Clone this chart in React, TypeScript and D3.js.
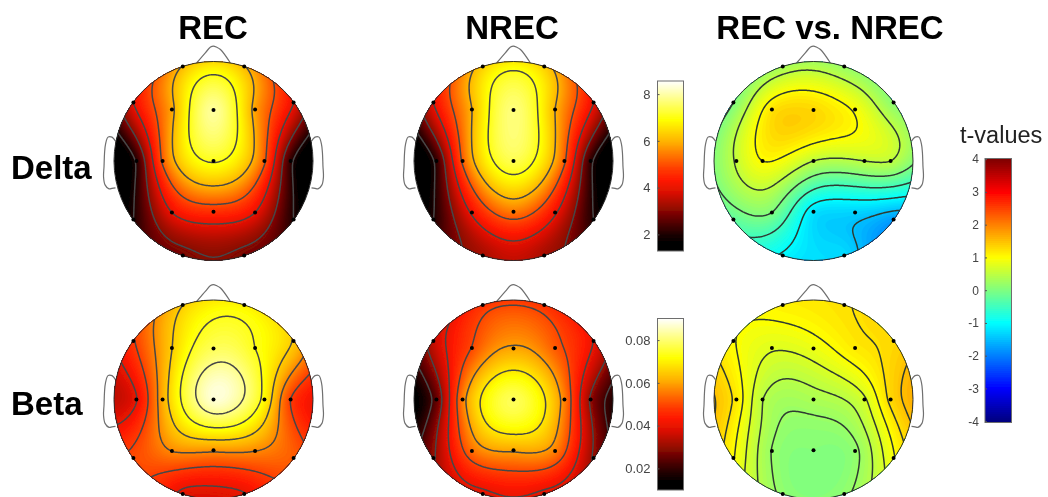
import React, { useEffect, useRef } from 'react';
import * as d3 from 'd3';

// 19 electrodes, unit head radius, x to the right and y towards the back
const electrodeX = [-0.309, 0.309, -0.805, -0.418, 0, 0.418, 0.805, -0.775, -0.512, 0, 0.512, 0.775, -0.805, -0.418, 0, 0.418, 0.805, -0.309, 0.309];
const electrodeY = [-0.95, -0.95, -0.587, -0.518, -0.513, -0.518, -0.587, 0, 0, 0, 0, 0, 0.587, 0.517, 0.51, 0.517, 0.587, 0.95, 0.95];

// Fp1 Fp2 F7 F3 Fz F4 F8 T3 C3 Cz C4 T4 T5 P3 Pz P4 T6 O1 O2
const recDelta = [6.05, 6.05, 4.0, 5.85, 7.9, 5.8, 4.0, 2.1, 5.1, 7.05, 5.1, 2.2, 2.0, 4.0, 4.6, 4.0, 2.0, 2.85, 2.85];
const nrecDelta = [6.3, 6.3, 4.0, 6.0, 7.7, 6.0, 4.0, 2.2, 5.1, 7.4, 5.1, 2.2, 2.0, 4.1, 5.4, 4.1, 2.0, 3.3, 3.3];
const diffDelta = [0.3, 0.2, 0.0, 1.2, 1.3, 0.95, 0.1, 0.55, 1.0, 0.5, 0.5, 0.5, -0.25, 0.0, -1.2, -1.35, -1.75, -1.05, -1.3];
const recBeta = [0.065, 0.07, 0.048, 0.065, 0.078, 0.0734, 0.0645, 0.04, 0.061, 0.087, 0.071, 0.0486, 0.05, 0.057, 0.058, 0.057, 0.052, 0.039, 0.04];
const nrecBeta = [0.047, 0.047, 0.035, 0.05, 0.06, 0.052, 0.04, 0.025, 0.056, 0.078, 0.056, 0.03, 0.03, 0.054, 0.06, 0.056, 0.03, 0.039, 0.039];
const diffBeta = [1.1, 1.22, 1.0, 0.75, 0.85, 1.15, 1.3, 1.15, 0.47, 0.35, 0.68, 1.3, 1.0, 0.2, 0.05, 0.15, 0.95, 0.15, 0.15];

const deltaLevels = [2, 3, 4, 5, 6, 7];
const recBetaLevels = [0.0403, 0.0486, 0.0569, 0.0651, 0.0734, 0.0817];
const nrecBetaLevels = [0.0214, 0.0309, 0.0403, 0.0497, 0.0591, 0.0686];
const diffDeltaLevels = [-1.5, -1, -0.5, 0, 0.5, 1];
const diffBetaLevels = [0.21, 0.46, 0.72, 0.98, 1.235, 1.49];

const deltaTicks = [2, 4, 6, 8];
const betaTicks = [0.02, 0.04, 0.06, 0.08];
const tTicks = [-4, -3, -2, -1, 0, 1, 2, 3, 4];

const deltaDomain: [number, number] = [1.29, 8.56];
const betaDomain: [number, number] = [0.0099, 0.0901];
const tDomain: [number, number] = [-4.04, 4.02];

// Head outline in unit radius
const noseOutline: [number, number][] = [[-0.17, -0.985], [-0.08, -1.09], [-0.03, -1.145], [0, -1.155], [0.03, -1.145], [0.07, -1.12], [0.17, -0.985]];
const earOutline: [number, number][] = [[0.985, -0.2], [1.02, -0.24], [1.06, -0.24], [1.085, -0.17], [1.095, -0.08], [1.1, 0.05], [1.105, 0.16], [1.09, 0.24], [1.05, 0.28], [1.02, 0.275], [0.985, 0.27]];

const hotColors = d3.scaleLinear<string>()
  .domain([0, 0.065, 0.143, 0.24, 0.34, 0.418, 0.476, 0.555, 0.64, 0.77, 0.88, 1])
  .range(['#000000', '#080000', '#400000', '#8c0800', '#d81000', '#ff1a00', '#ff3800', '#ff7000', '#ffb000', '#ffff00', '#ffff78', '#ffffff'])
  .clamp(true);

const jetColors = d3.scaleLinear<string>()
  .domain([-4, -3, -1, 1, 3, 4])
  .range(['#000080', '#0000ff', '#00ffff', '#ffff00', '#ff0000', '#800000'])
  .clamp(true);

const hotScale = (domain: [number, number]) => (v: number) => hotColors((v - domain[0]) / (domain[1] - domain[0]));

interface Head {
  cx: number;
  cy: number;
  values: number[];
  levels: number[];
  domain: [number, number];
  color: (v: number) => string;
  line: string;
}

const heads: Head[] = [
  { cx: 213.5, cy: 161, values: recDelta, levels: deltaLevels, domain: deltaDomain, color: hotScale(deltaDomain), line: '#474747' },
  { cx: 513.5, cy: 161, values: nrecDelta, levels: deltaLevels, domain: deltaDomain, color: hotScale(deltaDomain), line: '#474747' },
  { cx: 813.5, cy: 161, values: diffDelta, levels: diffDeltaLevels, domain: tDomain, color: jetColors, line: '#2f3a33' },
  { cx: 213.5, cy: 399.5, values: recBeta, levels: recBetaLevels, domain: betaDomain, color: hotScale(betaDomain), line: '#474747' },
  { cx: 513.5, cy: 399.5, values: nrecBeta, levels: nrecBetaLevels, domain: betaDomain, color: hotScale(betaDomain), line: '#474747' },
  { cx: 813.5, cy: 399.5, values: diffBeta, levels: diffBetaLevels, domain: tDomain, color: jetColors, line: '#2f3a33' },
];

const RADIUS = 99.5;
const GRID = 170;
const GRID_EXTENT = 1.08;
const N_COLORS = 128;

type Root = d3.Selection<SVGGElement, unknown, null, undefined>;

// Same surface as griddata 'v4': biharmonic spline through the electrode values
const green = (d: number) => (d > 0 ? d * d * (Math.log(d) - 1) : 0);

function solve(a: number[][], b: number[]) {
  const n = b.length;
  const m = a.map((row, i) => [...row, b[i]]);
  for (let c = 0; c < n; c++) {
    let p = c;
    for (let r = c + 1; r < n; r++) if (Math.abs(m[r][c]) > Math.abs(m[p][c])) p = r;
    [m[c], m[p]] = [m[p], m[c]];
    for (let r = c + 1; r < n; r++) {
      const f = m[r][c] / m[c][c];
      for (let k = c; k <= n; k++) m[r][k] -= f * m[c][k];
    }
  }
  const w = new Array(n).fill(0);
  for (let r = n - 1; r >= 0; r--) {
    let s = m[r][n];
    for (let k = r + 1; k < n; k++) s -= m[r][k] * w[k];
    w[r] = s / m[r][r];
  }
  return w;
}

function surface(values: number[]) {
  const a = electrodeX.map((x, i) => electrodeX.map((x2, j) => green(Math.hypot(x - x2, electrodeY[i] - electrodeY[j]))));
  const w = solve(a, values);
  const toUnit = d3.scaleLinear().domain([0, GRID - 1]).range([-GRID_EXTENT, GRID_EXTENT]);
  const field = new Array(GRID * GRID);
  for (let j = 0; j < GRID; j++) {
    for (let i = 0; i < GRID; i++) {
      const x = toUnit(i);
      const y = toUnit(j);
      field[j * GRID + i] = d3.sum(w, (wk, k) => wk * green(Math.hypot(x - electrodeX[k], y - electrodeY[k])));
    }
  }
  return field as number[];
}

function drawHead(root: Root, head: Head, index: number) {
  const x = d3.scaleLinear().domain([-1, 1]).range([head.cx - RADIUS, head.cx + RADIUS]);
  const y = d3.scaleLinear().domain([-1, 1]).range([head.cy - RADIUS, head.cy + RADIUS]);
  const cellToUnit = d3.scaleLinear().domain([0.5, GRID - 0.5]).range([-GRID_EXTENT, GRID_EXTENT]);
  const path = d3.geoPath(d3.geoTransform({
    point(px, py) {
      this.stream.point(x(cellToUnit(px)), y(cellToUnit(py)));
    },
  }));

  const field = surface(head.values);
  const contours = d3.contours().size([GRID, GRID]);

  const clipId = `head-clip-${index}`;
  root.append('clipPath').attr('id', clipId)
    .append('circle').attr('cx', head.cx).attr('cy', head.cy).attr('r', RADIUS);

  const g = root.append('g');

  // Nose and ears
  const outline = d3.line<[number, number]>().x(d => x(d[0])).y(d => y(d[1])).curve(d3.curveCatmullRom);
  const outlineG = g.append('g').attr('fill', 'none').attr('stroke', '#6f6f6f').attr('stroke-width', 1.2);
  outlineG.append('path').attr('d', outline(noseOutline));
  outlineG.append('path').attr('d', outline(earOutline));
  outlineG.append('path').attr('d', outline(earOutline.map(d => [-d[0], d[1]] as [number, number])));

  const clipped = g.append('g').attr('clip-path', `url(#${clipId})`);
  const [d0, d1] = head.domain;
  const bands = d3.range(N_COLORS).map(i => d0 + (i / N_COLORS) * (d1 - d0));

  clipped.append('circle').attr('cx', head.cx).attr('cy', head.cy).attr('r', RADIUS)
    .attr('fill', head.color(d0));
  clipped.selectAll('path.band')
    .data(bands.slice(1))
    .join('path')
    .attr('class', 'band')
    .attr('fill', t => head.color(t + (d1 - d0) / N_COLORS / 2))
    .attr('d', t => path(contours.contour(field, t)));
  clipped.selectAll('path.level')
    .data(head.levels)
    .join('path')
    .attr('class', 'level')
    .attr('fill', 'none')
    .attr('stroke', head.line)
    .attr('stroke-width', 1.5)
    .attr('d', t => path(contours.contour(field, t)));

  g.append('circle').attr('cx', head.cx).attr('cy', head.cy).attr('r', RADIUS)
    .attr('fill', 'none').attr('stroke', '#2c2c2c').attr('stroke-width', 1);

  g.selectAll('circle.electrode')
    .data(electrodeX)
    .join('circle')
    .attr('class', 'electrode')
    .attr('cx', d => x(d))
    .attr('cy', (_, i) => y(electrodeY[i]))
    .attr('r', 2)
    .attr('fill', '#000');
}

function drawColorbar(
  root: Root,
  left: number, top: number, bottom: number, barWidth: number,
  domain: [number, number], color: (v: number) => string,
  ticks: number[], format: (v: number) => string, fontSize: number, padding: number,
) {
  const y = d3.scaleLinear().domain(domain).range([bottom, top]);
  const step = (domain[1] - domain[0]) / N_COLORS;
  const bands = d3.range(N_COLORS).map(i => domain[0] + i * step).reverse();
  // Top band first; each one runs down to the bar's foot so no white shows between bands
  root.append('g').selectAll('rect')
    .data(bands)
    .join('rect')
    .attr('x', left)
    .attr('width', barWidth)
    .attr('y', d => y(d + step))
    .attr('height', d => bottom - y(d + step))
    .attr('fill', d => color(d + step / 2));
  root.append('rect')
    .attr('x', left).attr('y', top).attr('width', barWidth).attr('height', bottom - top)
    .attr('fill', 'none').attr('stroke', '#6e6e6e').attr('stroke-width', 1);

  const axis = root.append('g')
    .attr('transform', `translate(${left},0)`)
    .call(d3.axisLeft(y).tickValues(ticks).tickFormat(d => format(d as number)).tickSizeInner(-2).tickSizeOuter(0).tickPadding(padding));
  axis.select('.domain').remove();
  axis.selectAll('line').attr('stroke', '#555');
  axis.selectAll('text')
    .attr('fill', '#444')
    .style('font-size', `${fontSize}px`)
    .style('font-family', '"Liberation Sans", Arial, sans-serif');
}

const App: React.FC = () => {
  const chartRef = useRef<SVGSVGElement>(null);

  useEffect(() => {
    if (!chartRef.current) return;
    const svg = d3.select(chartRef.current);
    svg.selectAll('*').remove();

    // The reference is a soft, upscaled scan
    svg.append('filter').attr('id', 'soft')
      .attr('filterUnits', 'userSpaceOnUse')
      .attr('x', 0).attr('y', 0).attr('width', 1048).attr('height', 497)
      .append('feGaussianBlur').attr('stdDeviation', 0.5);
    const root = svg.append('g').attr('filter', 'url(#soft)') as unknown as Root;

    heads.forEach((head, i) => drawHead(root, head, i));

    const fmtInt = (v: number) => String(v);
    drawColorbar(root, 657.5, 81, 251, 26, deltaDomain, hotScale(deltaDomain), deltaTicks, fmtInt, 13, 7);
    drawColorbar(root, 657.5, 318.5, 490, 26, betaDomain, hotScale(betaDomain), betaTicks, d3.format('.2f'), 13, 7);
    drawColorbar(root, 985, 158.5, 422.5, 26.5, tDomain, jetColors, tTicks, fmtInt, 12, 6);

    // Titles and row labels
    const labels = root.append('g')
      .style('font-family', '"Liberation Sans", Arial, sans-serif')
      .attr('fill', '#000');
    const bold = [
      { text: 'REC', x: 213, y: 39, anchor: 'middle' },
      { text: 'NREC', x: 512, y: 39, anchor: 'middle' },
      { text: 'REC vs. NREC', x: 830, y: 39, anchor: 'middle' },
      { text: 'Delta', x: 11, y: 179, anchor: 'start' },
      { text: 'Beta', x: 11, y: 415, anchor: 'start' },
    ];
    labels.selectAll('text.bold')
      .data(bold)
      .join('text')
      .attr('class', 'bold')
      .attr('x', d => d.x)
      .attr('y', d => d.y)
      .attr('text-anchor', d => d.anchor)
      .style('font-size', '33px')
      .style('font-weight', 'bold')
      .text(d => d.text);
    labels.append('text')
      .attr('x', 960)
      .attr('y', 143)
      .style('font-size', '23.5px')
      .attr('fill', '#222')
      .text('t-values');
  }, []);

  return (
    <svg ref={chartRef} width={1048} height={497} style={{ position: 'absolute', left: 0, top: 0, background: '#fff' }} />
  );
};

export default App;
